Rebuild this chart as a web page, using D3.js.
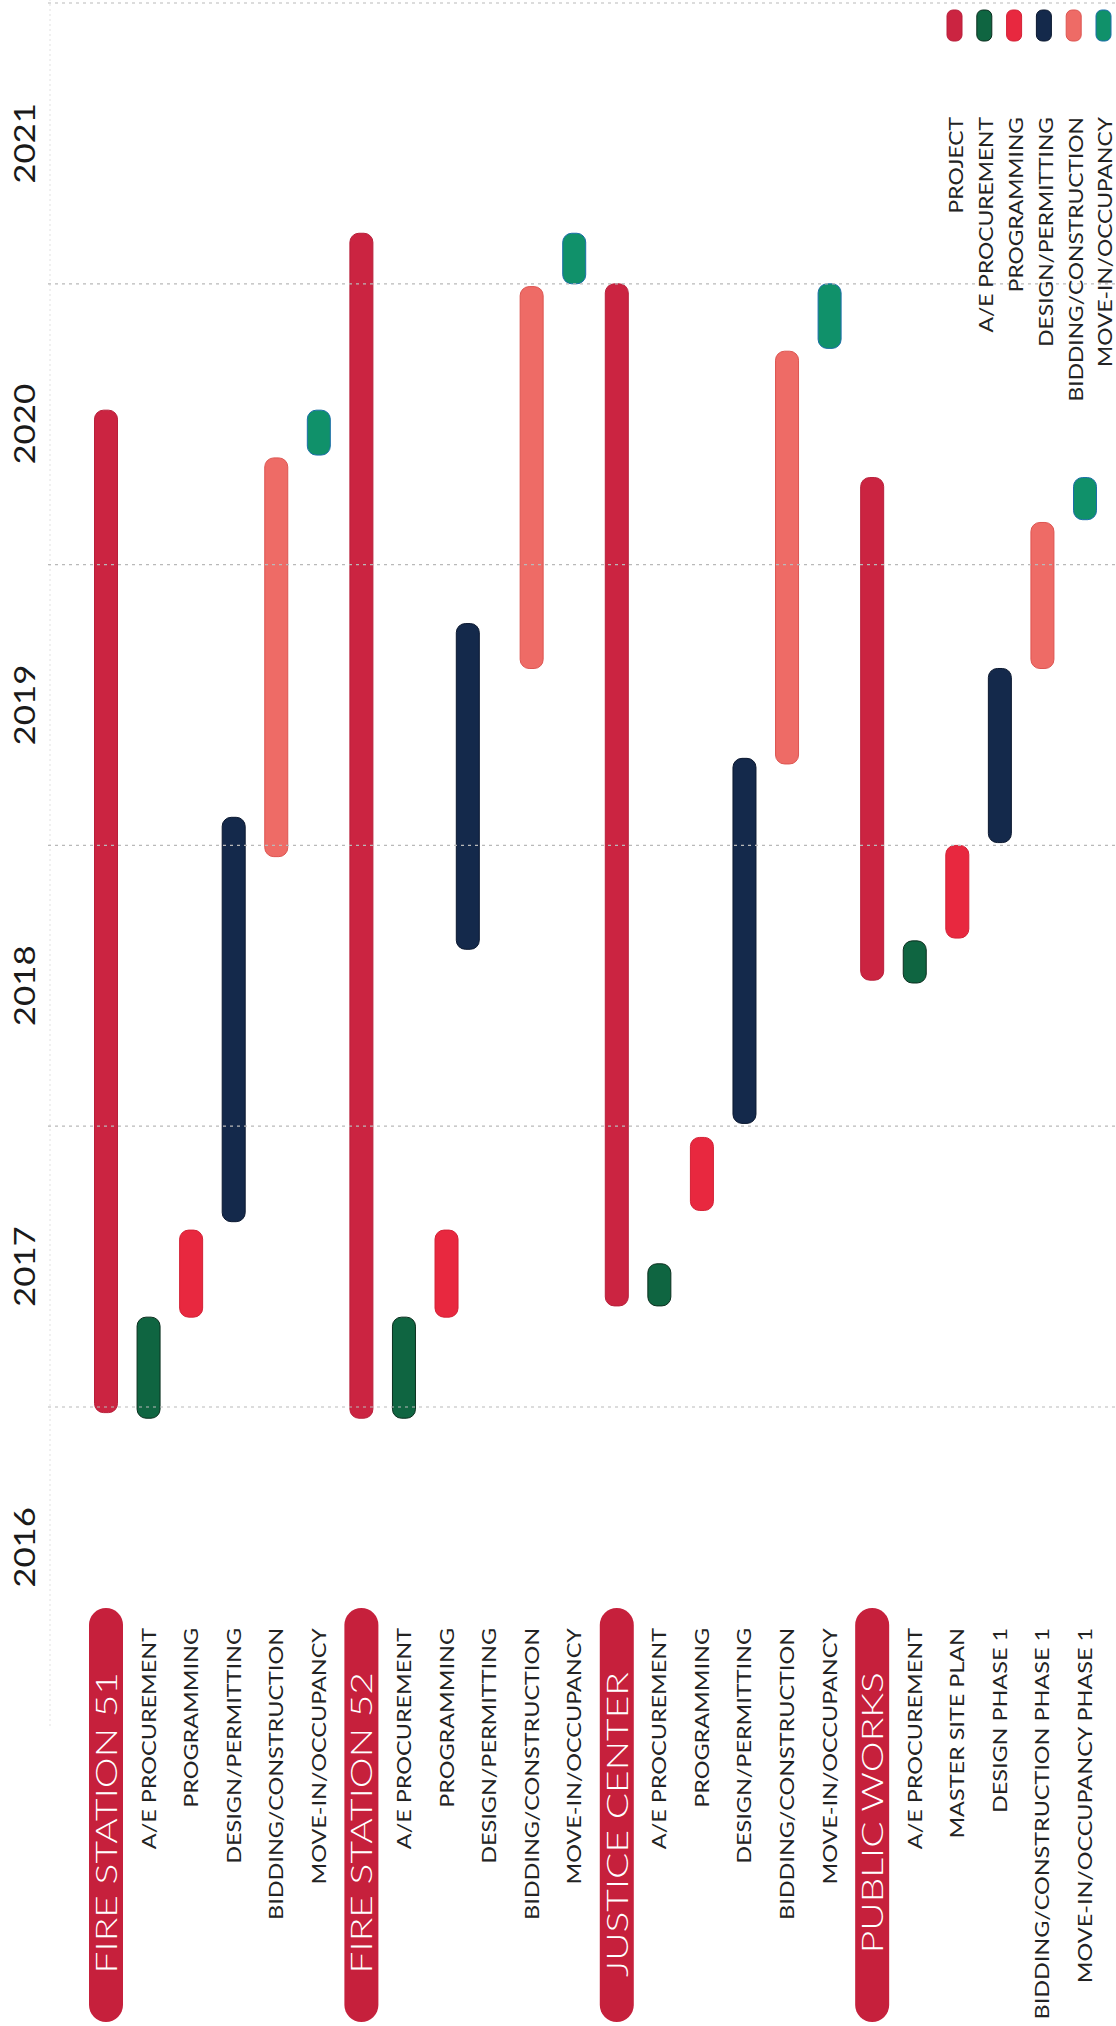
<!DOCTYPE html>
<html><head><meta charset="utf-8">
<script src="https://cdn.jsdelivr.net/npm/d3@7"></script>
<style>
body{margin:0;background:#fff}
svg{display:block;background:#fff}
text{font-family:Lato,"Noto Sans","DejaVu Sans",sans-serif}
</style>
</head><body>
<svg id="chart" width="1116" height="2026"></svg>
<script>
// ---------- DATA ----------
const yearLabels = [2016, 2017, 2018, 2019, 2020, 2021];
const gridYears = [2017, 2018, 2019, 2020, 2021, 2022];
const phaseNames = ["PROJECT", "A/E PROCUREMENT", "PROGRAMMING", "DESIGN/PERMITTING", "BIDDING/CONSTRUCTION", "MOVE-IN/OCCUPANCY"];
const projectNames = ["FIRE STATION 51", "FIRE STATION 52", "JUSTICE CENTER", "PUBLIC WORKS"];
const taskLabel = [
  "FIRE STATION 51", "A/E PROCUREMENT", "PROGRAMMING", "DESIGN/PERMITTING", "BIDDING/CONSTRUCTION", "MOVE-IN/OCCUPANCY",
  "FIRE STATION 52", "A/E PROCUREMENT", "PROGRAMMING", "DESIGN/PERMITTING", "BIDDING/CONSTRUCTION", "MOVE-IN/OCCUPANCY",
  "JUSTICE CENTER", "A/E PROCUREMENT", "PROGRAMMING", "DESIGN/PERMITTING", "BIDDING/CONSTRUCTION", "MOVE-IN/OCCUPANCY",
  "PUBLIC WORKS", "A/E PROCUREMENT", "MASTER SITE PLAN", "DESIGN PHASE 1", "BIDDING/CONSTRUCTION PHASE 1", "MOVE-IN/OCCUPANCY PHASE 1"
];
const taskPhase = [
  "PROJECT", "A/E PROCUREMENT", "PROGRAMMING", "DESIGN/PERMITTING", "BIDDING/CONSTRUCTION", "MOVE-IN/OCCUPANCY",
  "PROJECT", "A/E PROCUREMENT", "PROGRAMMING", "DESIGN/PERMITTING", "BIDDING/CONSTRUCTION", "MOVE-IN/OCCUPANCY",
  "PROJECT", "A/E PROCUREMENT", "PROGRAMMING", "DESIGN/PERMITTING", "BIDDING/CONSTRUCTION", "MOVE-IN/OCCUPANCY",
  "PROJECT", "A/E PROCUREMENT", "PROGRAMMING", "DESIGN/PERMITTING", "BIDDING/CONSTRUCTION", "MOVE-IN/OCCUPANCY"
];
const taskStart = [
  2016.98, 2016.96, 2017.32, 2017.66, 2018.96, 2020.39,
  2016.96, 2016.96, 2017.32, 2018.63, 2019.63, 2021.00,
  2017.36, 2017.36, 2017.70, 2018.01, 2019.29, 2020.77,
  2018.52, 2018.51, 2018.67, 2019.01, 2019.63, 2020.16
];
const taskEnd = [
  2020.55, 2017.32, 2017.63, 2019.10, 2020.38, 2020.55,
  2021.18, 2017.32, 2017.63, 2019.79, 2020.99, 2021.18,
  2021.00, 2017.51, 2017.96, 2019.31, 2020.76, 2021.00,
  2020.31, 2018.66, 2019.00, 2019.63, 2020.15, 2020.31
];

// ---------- STYLE ----------
const phaseFill = {
  "PROJECT": "#cb2441",
  "A/E PROCUREMENT": "#0f6541",
  "PROGRAMMING": "#e8283f",
  "DESIGN/PERMITTING": "#14294b",
  "BIDDING/CONSTRUCTION": "#ee6b66",
  "MOVE-IN/OCCUPANCY": "#10916a"
};
const phaseStroke = {
  "PROJECT": "#b81f3a",
  "A/E PROCUREMENT": "#0a2e1e",
  "PROGRAMMING": "#d42035",
  "DESIGN/PERMITTING": "#0b1830",
  "BIDDING/CONSTRUCTION": "#dd5450",
  "MOVE-IN/OCCUPANCY": "#1a6ea8"
};
const pillColor = "#c6203c";
const barShift = {9: -0.5}; // one bar in the original sits half a row off its label

// widen glyphs to mimic the original's broad geometric face
function stretch(sel, f) {
  sel.each(function () {
    const L = this.getComputedTextLength();
    d3.select(this).attr("textLength", L * f).attr("lengthAdjust", "spacingAndGlyphs");
  });
}

// ---------- LAYOUT (drawn in an unrotated frame, then turned -90deg) ----------
const W = 2026, H = 1116;
const svg = d3.select("#chart");
const g = svg.append("g").attr("transform", `translate(0,${W}) rotate(-90)`);

const x = d3.scaleLinear().domain([2017, 2022]).range([619, 2023]);
const rows = d3.range(taskLabel.length);
const y = d3.scalePoint().domain(rows).range([106, 1085]);
const step = y.step();
const barW = 23;

// faint vertical rule at left
g.append("line")
  .attr("x1", 300).attr("x2", W).attr("y1", 50).attr("y2", 50)
  .attr("stroke", "#f0f0f0").attr("stroke-width", 2).attr("stroke-dasharray", "2,3");

// year labels
g.selectAll("text.year").data(yearLabels).join("text")
  .attr("class", "year")
  .attr("x", d => x(d + 0.5))
  .attr("y", 25)
  .attr("dy", "0.36em")
  .attr("text-anchor", "middle")
  .attr("font-size", 29)
  .attr("font-weight", 400)
  .attr("fill", "#1a1a1a")
  .text(d => d)
  .call(stretch, 1.2);

// bars
const bars = rows.map(i => ({
  i, label: taskLabel[i], phase: taskPhase[i], s: taskStart[i], e: taskEnd[i]
}));
g.selectAll("rect.bar").data(bars).join("rect")
  .attr("class", "bar")
  .attr("x", d => x(d.s))
  .attr("width", d => x(d.e) - x(d.s))
  .attr("y", d => y(d.i) + (barShift[d.i] || 0) * step - barW / 2)
  .attr("height", barW)
  .attr("rx", 9).attr("ry", 9)
  .attr("fill", d => phaseFill[d.phase])
  .attr("stroke", d => phaseStroke[d.phase])
  .attr("stroke-width", 1);

// gridlines (drawn over bars)
g.selectAll("line.grid").data(gridYears).join("line")
  .attr("class", "grid")
  .attr("x1", d => x(d)).attr("x2", d => x(d))
  .attr("y1", 48).attr("y2", H)
  .attr("stroke", "#b9b9b9")
  .attr("stroke-width", 1.2)
  .attr("stroke-dasharray", "3,4");

// row labels
const headers = bars.filter(d => projectNames.includes(d.label));
const subs = bars.filter(d => !projectNames.includes(d.label));

g.selectAll("rect.pill").data(headers).join("rect")
  .attr("class", "pill")
  .attr("x", 4).attr("width", 414)
  .attr("y", d => y(d.i) - 17).attr("height", 34)
  .attr("rx", 17).attr("ry", 17)
  .attr("fill", pillColor);

g.selectAll("text.pilltxt").data(headers).join("text")
  .attr("class", "pilltxt")
  .attr("x", 354)
  .attr("y", d => y(d.i))
  .attr("dy", "0.36em")
  .attr("text-anchor", "end")
  .attr("font-size", 30)
  .attr("font-weight", 300)
  .attr("fill", "#ffffff")
  .text(d => d.label)
  .call(stretch, 1.3);

g.selectAll("text.sub").data(subs).join("text")
  .attr("class", "sub")
  .attr("x", 398)
  .attr("y", d => y(d.i))
  .attr("dy", "0.36em")
  .attr("text-anchor", "end")
  .attr("font-size", 19.5)
  .attr("fill", "#232323")
  .text(d => d.label)
  .call(stretch, 1.2);

// legend
const lg = d3.scalePoint().domain(phaseNames).range([954.5, 1103.5]);
g.selectAll("rect.sw").data(phaseNames).join("rect")
  .attr("class", "sw")
  .attr("x", 1985).attr("width", 31)
  .attr("y", d => lg(d) - 7.5).attr("height", 15)
  .attr("rx", 6).attr("ry", 6)
  .attr("fill", d => phaseFill[d])
  .attr("stroke", d => phaseStroke[d]).attr("stroke-width", 1);

g.selectAll("text.lg").data(phaseNames).join("text")
  .attr("class", "lg")
  .attr("x", 1909)
  .attr("y", d => lg(d) + 2)
  .attr("dy", "0.36em")
  .attr("text-anchor", "end")
  .attr("font-size", 19)
  .attr("fill", "#232323")
  .text(d => d)
  .call(stretch, 1.2);
</script>
</body></html>
